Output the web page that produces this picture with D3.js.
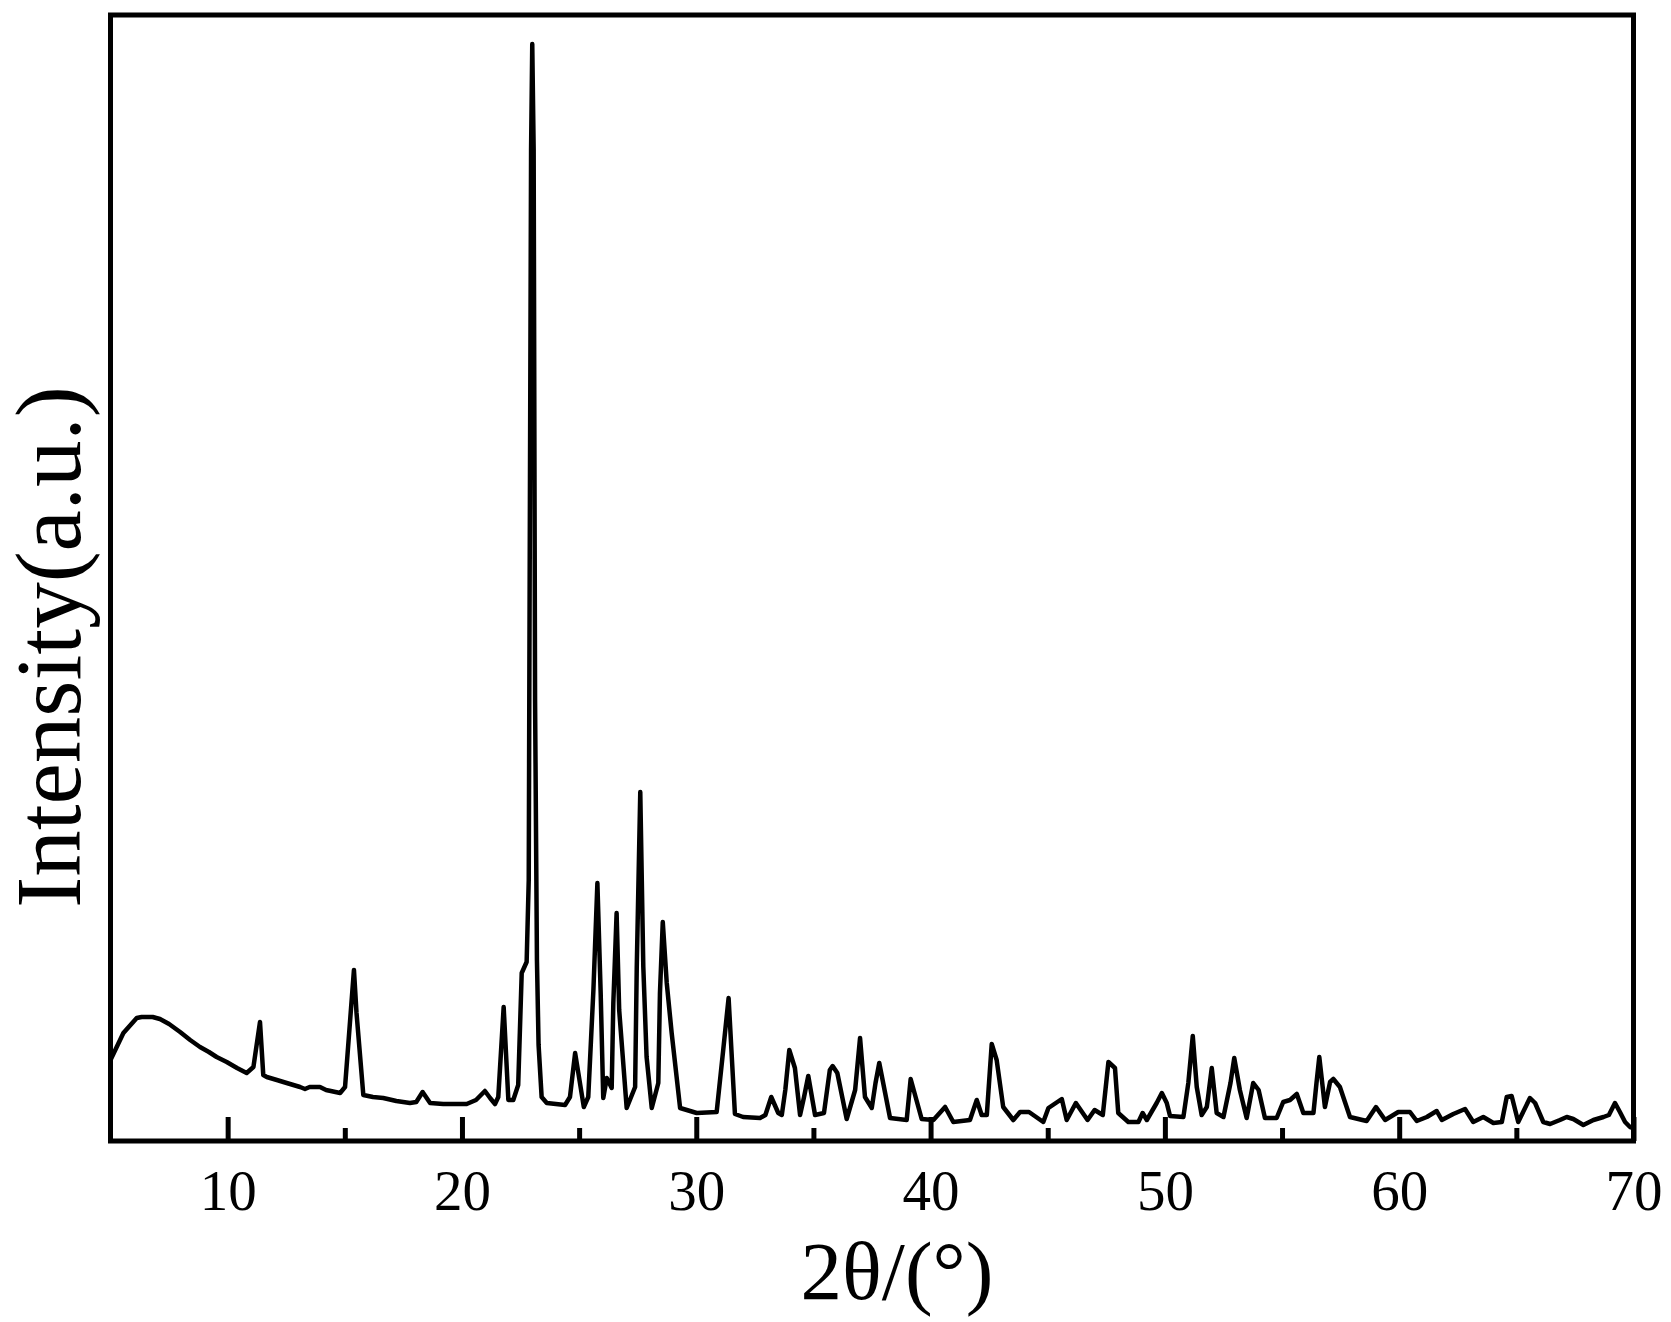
<!DOCTYPE html>
<html>
<head>
<meta charset="utf-8">
<script src="https://cdn.jsdelivr.net/npm/d3@7"></script>
<style>
body { margin: 0; background: #fff; }
text { font-family: "Liberation Serif", "Times New Roman", serif; fill: #000; }
</style>
</head>
<body>
<div id="chart"></div>
<script>

// XRD pattern, values (intensity in a.u.)
var twoTheta = [5.0, 5.55, 6.12, 6.33, 6.8, 7.11, 7.5, 7.97, 8.4, 8.82, 9.2, 9.53, 9.96, 10.4, 10.81, 11.1, 11.38, 11.52, 11.67, 12.1,
	12.52, 13.09, 13.3, 13.5, 13.94, 14.2, 14.8, 15.01, 15.39, 15.5, 15.79, 16.2, 16.64, 17.2, 17.78, 18.05, 18.32, 18.64, 19.2, 20.2,
	20.6, 20.98, 21.2, 21.41, 21.55, 21.78, 21.98, 22.19, 22.4, 22.55, 22.76, 22.85, 22.9, 22.95, 23.0, 23.06, 23.12, 23.2, 23.27, 23.4,
	23.62, 24.4, 24.61, 24.83, 25.2, 25.39, 25.61, 25.78, 25.92, 26.03, 26.18, 26.39, 26.46, 26.6, 26.71, 27.03, 27.39, 27.46, 27.61, 27.74,
	27.88, 28.1, 28.38, 28.45, 28.57, 28.74, 28.95, 29.31, 30.02, 30.87, 31.15, 31.38, 31.5, 31.65, 32.0, 32.72, 32.95, 33.2, 33.5, 33.65,
	33.8, 33.97, 34.21, 34.43, 34.6, 34.78, 35.07, 35.45, 35.7, 35.82, 36.02, 36.42, 36.78, 36.99, 37.2, 37.49, 37.65, 37.81, 38.27, 38.98,
	39.15, 39.62, 40.12, 40.62, 40.97, 41.68, 41.97, 42.18, 42.4, 42.61, 42.82, 43.1, 43.53, 43.82, 44.2, 44.81, 45.03, 45.6, 45.81, 46.2,
	46.7, 47.0, 47.35, 47.59, 47.87, 48.01, 48.44, 48.87, 49.05, 49.23, 49.65, 49.87, 50.08, 50.22, 50.79, 51.0, 51.19, 51.36, 51.57, 51.79,
	52.0, 52.21, 52.5, 52.8, 52.96, 53.2, 53.49, 53.77, 54.0, 54.27, 54.77, 55.05, 55.34, 55.63, 55.91, 56.34, 56.47, 56.59, 56.83, 57.05,
	57.19, 57.47, 57.9, 58.61, 59.01, 59.4, 59.96, 60.46, 60.75, 61.18, 61.6, 61.82, 62.31, 62.81, 63.16, 63.59, 64.02, 64.38, 64.59, 64.8,
	65.08, 65.58, 65.8, 66.15, 66.44, 66.86, 67.15, 67.43, 67.86, 68.29, 68.72, 68.95, 69.21, 69.42, 69.64, 69.85, 70.0];

var intensity = [81, 108, 123, 124, 124, 122, 117, 109, 101, 94, 89, 84, 79, 73, 68, 74, 119, 66, 64, 61,
	58, 54, 52, 54, 54, 51, 48, 54, 171, 128, 46, 44, 43, 40, 38, 39, 49, 38, 37, 37,
	41, 50, 43, 37, 44, 134, 41, 41, 56, 168, 179, 261, 641, 991, 1097, 991, 441, 181, 96, 44,
	38, 36, 44, 88, 34, 44, 151, 258, 148, 43, 63, 53, 138, 228, 131, 33, 54, 174, 349, 174,
	84, 33, 58, 148, 219, 158, 108, 33, 28, 29, 91, 143, 91, 27, 24, 23, 26, 44, 28, 26,
	51, 91, 73, 26, 44, 65, 26, 28, 71, 75, 68, 22, 51, 103, 44, 33, 58, 78, 23, 21,
	62, 22, 21, 34, 19, 21, 41, 26, 26, 97, 81, 34, 21, 29, 29, 19, 33, 42, 21, 38,
	21, 31, 26, 79, 73, 28, 19, 19, 28, 21, 38, 48, 38, 25, 24, 58, 105, 54, 26, 34,
	73, 28, 24, 58, 83, 51, 23, 58, 51, 23, 23, 39, 41, 47, 28, 28, 58, 84, 34, 59,
	62, 54, 24, 20, 34, 21, 29, 29, 20, 24, 30, 21, 27, 32, 19, 24, 18, 19, 44, 45,
	19, 43, 38, 19, 17, 21, 24, 22, 16, 21, 24, 26, 38, 29, 19, 14, 13];

var majorTicks = [10, 20, 30, 40, 50, 60, 70];
var minorTicks = [15, 25, 35, 45, 55, 65];

var width = 1671, height = 1322;
// plot frame (note: "top" is reserved on window, so use p* names)
var pLeft = 110.5, pRight = 1633.5, pTop = 15, pBottom = 1141;

var svg = d3.select("#chart").append("svg")
	.attr("width", width)
	.attr("height", height)
	.style("background", "#fff");

var x = d3.scaleLinear().domain([5, 70]).range([pLeft, pRight]);
var y = d3.scaleLinear().domain([0, 1126]).range([pBottom, pTop]);

var data = twoTheta.map(function(t, i) { return [t, intensity[i]]; });

// minor ticks, inward, no labels
svg.append("g")
	.attr("transform", "translate(0," + pBottom + ")")
	.call(d3.axisBottom(x).tickValues(minorTicks).tickSize(-13).tickFormat(""))
	.call(function(g) { g.select(".domain").remove(); })
	.selectAll("line").attr("stroke", "#000").attr("stroke-width", 5);

// major ticks with labels
var xAxis = svg.append("g")
	.attr("transform", "translate(0," + pBottom + ")")
	.call(d3.axisBottom(x).tickValues(majorTicks).tickSize(-24).tickPadding(29).tickFormat(d3.format("d")));
xAxis.select(".domain").remove();
xAxis.selectAll("line").attr("stroke", "#000").attr("stroke-width", 5);
xAxis.selectAll("text")
	.attr("font-family", "'Liberation Serif', 'Times New Roman', serif")
	.attr("font-size", 57)
	.attr("fill", "#000");

// the pattern
var line = d3.line()
	.x(function(d) { return x(d[0]); })
	.y(function(d) { return y(d[1]); });

svg.append("path")
	.datum(data)
	.attr("d", line)
	.attr("fill", "none")
	.attr("stroke", "#000")
	.attr("stroke-width", 4.5)
	.attr("stroke-linejoin", "round");

// frame
svg.append("rect")
	.attr("x", pLeft)
	.attr("y", pTop)
	.attr("width", pRight - pLeft)
	.attr("height", pBottom - pTop)
	.attr("fill", "none")
	.attr("stroke", "#000")
	.attr("stroke-width", 5);

// axis titles
svg.append("text")
	.attr("x", 897)
	.attr("y", 1299)
	.attr("text-anchor", "middle")
	.attr("font-size", 83)
	.text("2θ/(°)");

svg.append("text")
	.attr("transform", "translate(80,647) rotate(-90)")
	.attr("text-anchor", "middle")
	.attr("font-size", 93)
	.text("Intensity(a.u.)");

</script>
</body>
</html>
